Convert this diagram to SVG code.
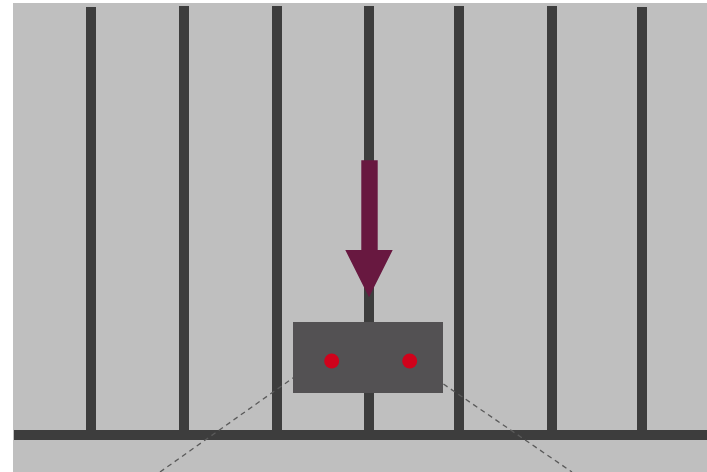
<svg xmlns="http://www.w3.org/2000/svg" width="707" height="472" viewBox="0 0 707 472">
  <style>
    .bar { fill: #3d3d3d; }
    .dash { stroke: #5a5a5a; stroke-width: 1.3; stroke-dasharray: 5 4; fill: none; }
    .dot { fill: #d0021b; }
  </style>
  <rect x="13" y="3" width="694" height="469" fill="#bfbfbf"/>
  <g id="frame">
    <rect class="bar" x="86" y="7" width="10" height="425"/>
    <rect class="bar" x="179" y="6" width="10" height="426"/>
    <rect class="bar" x="272" y="6" width="10" height="426"/>
    <rect class="bar" x="364" y="6" width="10" height="426"/>
    <rect class="bar" x="454" y="6" width="10" height="426"/>
    <rect class="bar" x="547" y="6" width="10" height="426"/>
    <rect class="bar" x="637" y="7" width="10" height="425"/>
    <rect class="bar" x="14" y="430" width="693" height="10"/>
  </g>
  <g id="connectors">
    <path class="dash" d="M160 472 L300 373"/>
    <path class="dash" d="M436 379 L572 472"/>
  </g>
  <g id="arrow">
    <path d="M361.3 160.3 H377.7 V250 H392.7 L369 297.3 L345.3 250 H361.3 Z" fill="#681840"/>
  </g>
  <g id="box">
    <rect x="293" y="322" width="150" height="71" fill="#535153"/>
    <circle class="dot" cx="331.7" cy="361" r="7.5"/>
    <circle class="dot" cx="409.7" cy="361" r="7.5"/>
  </g>
</svg>
